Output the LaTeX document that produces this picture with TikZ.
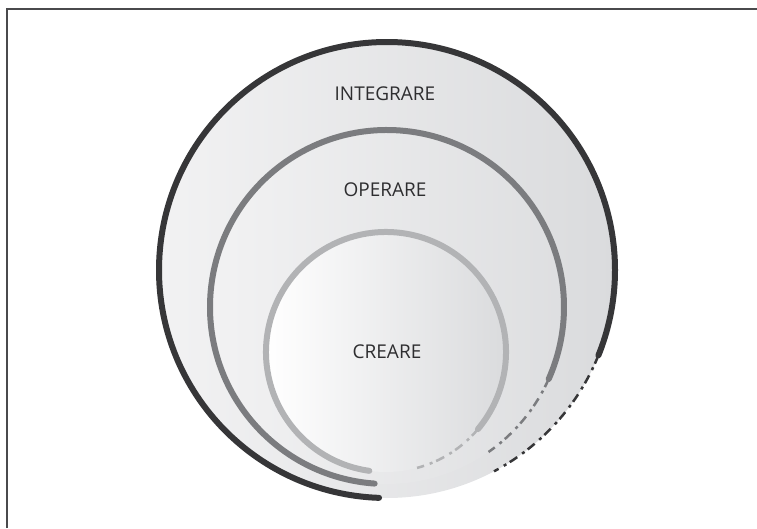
\documentclass[tikz,border=0pt]{standalone}
\usepackage{fontspec}
\setmainfont{Open Sans}
\usetikzlibrary{positioning}
\definecolor{inkdark}{HTML}{363638}
\definecolor{inkmid}{HTML}{7B7C7F}
\definecolor{inklight}{HTML}{B2B3B5}
\definecolor{wash}{HTML}{DADBDD}
\definecolor{washlight}{HTML}{F2F2F3}
\definecolor{labeltext}{HTML}{2E2E30}
\tikzset{
  ring/.style={line width=6pt,line cap=round},
  drybrush/.style={line width=2.5pt,dash pattern=on 9pt off 4pt on 3pt off 6pt},
  ringlabel/.style={font=\fontsize{19}{19}\selectfont,text=labeltext}
}

\begin{document}
\begin{tikzpicture}[x=1pt,y=1pt]
\useasboundingbox (0,0) rectangle (757,528);
\draw[line width=1.5pt,draw=inkdark!90] (7,0) -- (7,519) -- (757,519);
\coordinate (co) at (387,258);
\coordinate (cm) at (387,221);
\coordinate (ci) at (386,176);
\shade[left color=washlight,right color=wash] (co) circle (228);
\shade[left color=washlight,right color=wash!90] (cm) circle (177);
\shade[left color=white,middle color=white,right color=wash] (ci) circle (120);
\draw[ring,draw=inkdark] (co) ++(268:228) arc[start angle=268,end angle=-22,radius=228];
\draw[drybrush,draw=inkdark] (co) ++(-22:228) arc[start angle=-22,end angle=-62,radius=228];
\draw[ring,draw=inkmid] (cm) ++(266:177) arc[start angle=266,end angle=-24,radius=177];
\draw[drybrush,draw=inkmid] (cm) ++(-24:177) arc[start angle=-24,end angle=-55,radius=177];
\draw[ring,draw=inklight] (ci) ++(262:120) arc[start angle=262,end angle=-40,radius=120];
\draw[drybrush,draw=inklight] (ci) ++(-40:120) arc[start angle=-40,end angle=-75,radius=120];
\node[ringlabel] (integ) at (385,434) {INTEGRARE};
\node[ringlabel] (oper) at (385,338) {OPERARE};
\node[ringlabel] (crea) at (387,176) {CREARE};
\end{tikzpicture}
\end{document}
